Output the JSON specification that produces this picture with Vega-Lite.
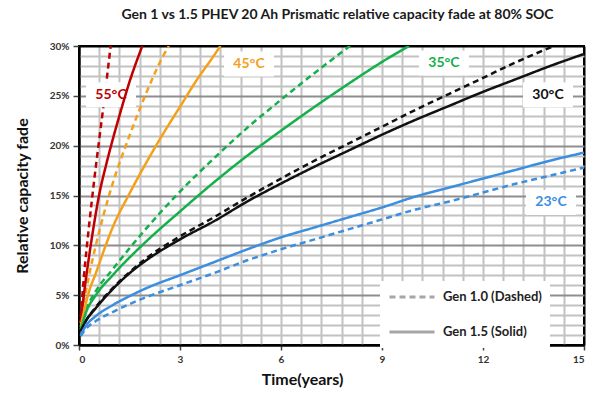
{
  "$schema": "https://vega.github.io/schema/vega-lite/v6.json",
  "width": 505,
  "height": 299,
  "autosize": "none",
  "padding": {"left": 79, "top": 46, "right": 13, "bottom": 48},
  "background": "white",
  "title": {
    "text": "Gen 1 vs 1.5 PHEV 20 Ah Prismatic relative capacity fade at 80% SOC",
    "font": "Lato",
    "fontSize": 14,
    "fontWeight": "bold",
    "color": "#1a1a1a",
    "anchor": "middle",
    "frame": "group",
    "dx": 6,
    "offset": 19
  },
  "config": {
    "view": {"stroke": "#000", "strokeWidth": 2},
    "axis": {
      "labelFont": "Lato",
      "labelFontWeight": "bold",
      "labelFontSize": 10,
      "labelColor": "#333",
      "titleFont": "Lato",
      "titleFontWeight": "bold",
      "titleColor": "#111"
    }
  },
  "datasets": {
    "curves": [
      {"temp": "55°C", "gen": "Gen 1.5 (Solid)", "t": 0.05, "fade": 2.3},
      {"temp": "55°C", "gen": "Gen 1.5 (Solid)", "t": 0.15, "fade": 5.2},
      {"temp": "55°C", "gen": "Gen 1.5 (Solid)", "t": 0.3, "fade": 8.9},
      {"temp": "55°C", "gen": "Gen 1.5 (Solid)", "t": 0.45, "fade": 12.2},
      {"temp": "55°C", "gen": "Gen 1.5 (Solid)", "t": 0.6, "fade": 15.1},
      {"temp": "55°C", "gen": "Gen 1.5 (Solid)", "t": 0.8, "fade": 18.0},
      {"temp": "55°C", "gen": "Gen 1.5 (Solid)", "t": 1.0, "fade": 20.6},
      {"temp": "55°C", "gen": "Gen 1.5 (Solid)", "t": 1.2, "fade": 23.0},
      {"temp": "55°C", "gen": "Gen 1.5 (Solid)", "t": 1.5, "fade": 26.4},
      {"temp": "55°C", "gen": "Gen 1.5 (Solid)", "t": 1.88, "fade": 30.0},
      {"temp": "55°C", "gen": "Gen 1.0 (Dashed)", "t": 0.05, "fade": 2.8},
      {"temp": "55°C", "gen": "Gen 1.0 (Dashed)", "t": 0.15, "fade": 7.0},
      {"temp": "55°C", "gen": "Gen 1.0 (Dashed)", "t": 0.3, "fade": 12.0},
      {"temp": "55°C", "gen": "Gen 1.0 (Dashed)", "t": 0.45, "fade": 16.5},
      {"temp": "55°C", "gen": "Gen 1.0 (Dashed)", "t": 0.6, "fade": 20.6},
      {"temp": "55°C", "gen": "Gen 1.0 (Dashed)", "t": 0.75, "fade": 24.6},
      {"temp": "55°C", "gen": "Gen 1.0 (Dashed)", "t": 0.94, "fade": 30.0},
      {"temp": "45°C", "gen": "Gen 1.5 (Solid)", "t": 0.05, "fade": 1.8},
      {"temp": "45°C", "gen": "Gen 1.5 (Solid)", "t": 0.15, "fade": 3.4},
      {"temp": "45°C", "gen": "Gen 1.5 (Solid)", "t": 0.3, "fade": 5.4},
      {"temp": "45°C", "gen": "Gen 1.5 (Solid)", "t": 0.5, "fade": 7.2},
      {"temp": "45°C", "gen": "Gen 1.5 (Solid)", "t": 0.75, "fade": 9.6},
      {"temp": "45°C", "gen": "Gen 1.5 (Solid)", "t": 1.0, "fade": 11.8},
      {"temp": "45°C", "gen": "Gen 1.5 (Solid)", "t": 1.5, "fade": 15.2},
      {"temp": "45°C", "gen": "Gen 1.5 (Solid)", "t": 2.0, "fade": 18.3},
      {"temp": "45°C", "gen": "Gen 1.5 (Solid)", "t": 2.5, "fade": 21.2},
      {"temp": "45°C", "gen": "Gen 1.5 (Solid)", "t": 3.0, "fade": 23.9},
      {"temp": "45°C", "gen": "Gen 1.5 (Solid)", "t": 3.5, "fade": 26.6},
      {"temp": "45°C", "gen": "Gen 1.5 (Solid)", "t": 4.0, "fade": 29.0},
      {"temp": "45°C", "gen": "Gen 1.5 (Solid)", "t": 4.2, "fade": 30.0},
      {"temp": "45°C", "gen": "Gen 1.0 (Dashed)", "t": 0.05, "fade": 2.2},
      {"temp": "45°C", "gen": "Gen 1.0 (Dashed)", "t": 0.15, "fade": 4.3},
      {"temp": "45°C", "gen": "Gen 1.0 (Dashed)", "t": 0.3, "fade": 7.0},
      {"temp": "45°C", "gen": "Gen 1.0 (Dashed)", "t": 0.5, "fade": 10.0},
      {"temp": "45°C", "gen": "Gen 1.0 (Dashed)", "t": 0.75, "fade": 13.3},
      {"temp": "45°C", "gen": "Gen 1.0 (Dashed)", "t": 1.0, "fade": 16.2},
      {"temp": "45°C", "gen": "Gen 1.0 (Dashed)", "t": 1.5, "fade": 21.0},
      {"temp": "45°C", "gen": "Gen 1.0 (Dashed)", "t": 2.0, "fade": 25.3},
      {"temp": "45°C", "gen": "Gen 1.0 (Dashed)", "t": 2.5, "fade": 29.0},
      {"temp": "45°C", "gen": "Gen 1.0 (Dashed)", "t": 2.67, "fade": 30.0},
      {"temp": "35°C", "gen": "Gen 1.5 (Solid)", "t": 0.05, "fade": 1.5},
      {"temp": "35°C", "gen": "Gen 1.5 (Solid)", "t": 0.2, "fade": 3.2},
      {"temp": "35°C", "gen": "Gen 1.5 (Solid)", "t": 0.5, "fade": 5.0},
      {"temp": "35°C", "gen": "Gen 1.5 (Solid)", "t": 1, "fade": 7.0},
      {"temp": "35°C", "gen": "Gen 1.5 (Solid)", "t": 2, "fade": 10.4},
      {"temp": "35°C", "gen": "Gen 1.5 (Solid)", "t": 3, "fade": 13.4},
      {"temp": "35°C", "gen": "Gen 1.5 (Solid)", "t": 4, "fade": 16.3},
      {"temp": "35°C", "gen": "Gen 1.5 (Solid)", "t": 5, "fade": 19.0},
      {"temp": "35°C", "gen": "Gen 1.5 (Solid)", "t": 6, "fade": 21.5},
      {"temp": "35°C", "gen": "Gen 1.5 (Solid)", "t": 7, "fade": 23.9},
      {"temp": "35°C", "gen": "Gen 1.5 (Solid)", "t": 8, "fade": 26.2},
      {"temp": "35°C", "gen": "Gen 1.5 (Solid)", "t": 9, "fade": 28.4},
      {"temp": "35°C", "gen": "Gen 1.5 (Solid)", "t": 9.8, "fade": 30.0},
      {"temp": "35°C", "gen": "Gen 1.0 (Dashed)", "t": 0.05, "fade": 1.6},
      {"temp": "35°C", "gen": "Gen 1.0 (Dashed)", "t": 0.2, "fade": 3.4},
      {"temp": "35°C", "gen": "Gen 1.0 (Dashed)", "t": 0.5, "fade": 5.4},
      {"temp": "35°C", "gen": "Gen 1.0 (Dashed)", "t": 1, "fade": 7.6},
      {"temp": "35°C", "gen": "Gen 1.0 (Dashed)", "t": 2, "fade": 11.7},
      {"temp": "35°C", "gen": "Gen 1.0 (Dashed)", "t": 3, "fade": 15.4},
      {"temp": "35°C", "gen": "Gen 1.0 (Dashed)", "t": 4, "fade": 18.7},
      {"temp": "35°C", "gen": "Gen 1.0 (Dashed)", "t": 5, "fade": 21.8},
      {"temp": "35°C", "gen": "Gen 1.0 (Dashed)", "t": 6, "fade": 24.6},
      {"temp": "35°C", "gen": "Gen 1.0 (Dashed)", "t": 7, "fade": 27.3},
      {"temp": "35°C", "gen": "Gen 1.0 (Dashed)", "t": 8.05, "fade": 30.0},
      {"temp": "30°C", "gen": "Gen 1.5 (Solid)", "t": 0.05, "fade": 1.4},
      {"temp": "30°C", "gen": "Gen 1.5 (Solid)", "t": 0.2, "fade": 2.4},
      {"temp": "30°C", "gen": "Gen 1.5 (Solid)", "t": 0.5, "fade": 3.7},
      {"temp": "30°C", "gen": "Gen 1.5 (Solid)", "t": 1, "fade": 5.6},
      {"temp": "30°C", "gen": "Gen 1.5 (Solid)", "t": 1.5, "fade": 7.2},
      {"temp": "30°C", "gen": "Gen 1.5 (Solid)", "t": 2, "fade": 8.5},
      {"temp": "30°C", "gen": "Gen 1.5 (Solid)", "t": 3, "fade": 10.6},
      {"temp": "30°C", "gen": "Gen 1.5 (Solid)", "t": 4, "fade": 12.4},
      {"temp": "30°C", "gen": "Gen 1.5 (Solid)", "t": 5, "fade": 14.4},
      {"temp": "30°C", "gen": "Gen 1.5 (Solid)", "t": 6, "fade": 16.2},
      {"temp": "30°C", "gen": "Gen 1.5 (Solid)", "t": 7, "fade": 17.9},
      {"temp": "30°C", "gen": "Gen 1.5 (Solid)", "t": 8, "fade": 19.5},
      {"temp": "30°C", "gen": "Gen 1.5 (Solid)", "t": 9, "fade": 21.1},
      {"temp": "30°C", "gen": "Gen 1.5 (Solid)", "t": 10, "fade": 22.6},
      {"temp": "30°C", "gen": "Gen 1.5 (Solid)", "t": 11, "fade": 24.0},
      {"temp": "30°C", "gen": "Gen 1.5 (Solid)", "t": 12, "fade": 25.4},
      {"temp": "30°C", "gen": "Gen 1.5 (Solid)", "t": 13, "fade": 26.7},
      {"temp": "30°C", "gen": "Gen 1.5 (Solid)", "t": 14, "fade": 28.0},
      {"temp": "30°C", "gen": "Gen 1.5 (Solid)", "t": 15, "fade": 29.2},
      {"temp": "30°C", "gen": "Gen 1.0 (Dashed)", "t": 0.05, "fade": 1.4},
      {"temp": "30°C", "gen": "Gen 1.0 (Dashed)", "t": 0.2, "fade": 2.4},
      {"temp": "30°C", "gen": "Gen 1.0 (Dashed)", "t": 0.5, "fade": 3.8},
      {"temp": "30°C", "gen": "Gen 1.0 (Dashed)", "t": 1, "fade": 5.7},
      {"temp": "30°C", "gen": "Gen 1.0 (Dashed)", "t": 1.5, "fade": 7.3},
      {"temp": "30°C", "gen": "Gen 1.0 (Dashed)", "t": 2, "fade": 8.7},
      {"temp": "30°C", "gen": "Gen 1.0 (Dashed)", "t": 3, "fade": 10.9},
      {"temp": "30°C", "gen": "Gen 1.0 (Dashed)", "t": 4, "fade": 12.8},
      {"temp": "30°C", "gen": "Gen 1.0 (Dashed)", "t": 5, "fade": 14.8},
      {"temp": "30°C", "gen": "Gen 1.0 (Dashed)", "t": 6, "fade": 16.7},
      {"temp": "30°C", "gen": "Gen 1.0 (Dashed)", "t": 7, "fade": 18.5},
      {"temp": "30°C", "gen": "Gen 1.0 (Dashed)", "t": 8, "fade": 20.2},
      {"temp": "30°C", "gen": "Gen 1.0 (Dashed)", "t": 9, "fade": 21.9},
      {"temp": "30°C", "gen": "Gen 1.0 (Dashed)", "t": 10, "fade": 23.6},
      {"temp": "30°C", "gen": "Gen 1.0 (Dashed)", "t": 11, "fade": 25.2},
      {"temp": "30°C", "gen": "Gen 1.0 (Dashed)", "t": 12, "fade": 26.8},
      {"temp": "30°C", "gen": "Gen 1.0 (Dashed)", "t": 13, "fade": 28.4},
      {"temp": "30°C", "gen": "Gen 1.0 (Dashed)", "t": 14.1, "fade": 30.0},
      {"temp": "23°C", "gen": "Gen 1.5 (Solid)", "t": 0.05, "fade": 1.0},
      {"temp": "23°C", "gen": "Gen 1.5 (Solid)", "t": 0.2, "fade": 1.9},
      {"temp": "23°C", "gen": "Gen 1.5 (Solid)", "t": 0.5, "fade": 2.9},
      {"temp": "23°C", "gen": "Gen 1.5 (Solid)", "t": 1, "fade": 4.0},
      {"temp": "23°C", "gen": "Gen 1.5 (Solid)", "t": 1.5, "fade": 4.9},
      {"temp": "23°C", "gen": "Gen 1.5 (Solid)", "t": 2, "fade": 5.7},
      {"temp": "23°C", "gen": "Gen 1.5 (Solid)", "t": 3, "fade": 7.0},
      {"temp": "23°C", "gen": "Gen 1.5 (Solid)", "t": 4, "fade": 8.3},
      {"temp": "23°C", "gen": "Gen 1.5 (Solid)", "t": 5, "fade": 9.6},
      {"temp": "23°C", "gen": "Gen 1.5 (Solid)", "t": 6, "fade": 10.8},
      {"temp": "23°C", "gen": "Gen 1.5 (Solid)", "t": 7, "fade": 11.8},
      {"temp": "23°C", "gen": "Gen 1.5 (Solid)", "t": 8, "fade": 12.8},
      {"temp": "23°C", "gen": "Gen 1.5 (Solid)", "t": 9, "fade": 13.8},
      {"temp": "23°C", "gen": "Gen 1.5 (Solid)", "t": 10, "fade": 14.9},
      {"temp": "23°C", "gen": "Gen 1.5 (Solid)", "t": 11, "fade": 15.8},
      {"temp": "23°C", "gen": "Gen 1.5 (Solid)", "t": 12, "fade": 16.7},
      {"temp": "23°C", "gen": "Gen 1.5 (Solid)", "t": 13, "fade": 17.6},
      {"temp": "23°C", "gen": "Gen 1.5 (Solid)", "t": 14, "fade": 18.5},
      {"temp": "23°C", "gen": "Gen 1.5 (Solid)", "t": 15, "fade": 19.3},
      {"temp": "23°C", "gen": "Gen 1.0 (Dashed)", "t": 0.05, "fade": 0.9},
      {"temp": "23°C", "gen": "Gen 1.0 (Dashed)", "t": 0.2, "fade": 1.6},
      {"temp": "23°C", "gen": "Gen 1.0 (Dashed)", "t": 0.5, "fade": 2.4},
      {"temp": "23°C", "gen": "Gen 1.0 (Dashed)", "t": 1, "fade": 3.3},
      {"temp": "23°C", "gen": "Gen 1.0 (Dashed)", "t": 1.5, "fade": 4.1},
      {"temp": "23°C", "gen": "Gen 1.0 (Dashed)", "t": 2, "fade": 4.8},
      {"temp": "23°C", "gen": "Gen 1.0 (Dashed)", "t": 3, "fade": 6.0},
      {"temp": "23°C", "gen": "Gen 1.0 (Dashed)", "t": 4, "fade": 7.2},
      {"temp": "23°C", "gen": "Gen 1.0 (Dashed)", "t": 5, "fade": 8.5},
      {"temp": "23°C", "gen": "Gen 1.0 (Dashed)", "t": 6, "fade": 9.6},
      {"temp": "23°C", "gen": "Gen 1.0 (Dashed)", "t": 7, "fade": 10.6},
      {"temp": "23°C", "gen": "Gen 1.0 (Dashed)", "t": 8, "fade": 11.6},
      {"temp": "23°C", "gen": "Gen 1.0 (Dashed)", "t": 9, "fade": 12.6},
      {"temp": "23°C", "gen": "Gen 1.0 (Dashed)", "t": 10, "fade": 13.6},
      {"temp": "23°C", "gen": "Gen 1.0 (Dashed)", "t": 11, "fade": 14.4},
      {"temp": "23°C", "gen": "Gen 1.0 (Dashed)", "t": 12, "fade": 15.3},
      {"temp": "23°C", "gen": "Gen 1.0 (Dashed)", "t": 13, "fade": 16.2},
      {"temp": "23°C", "gen": "Gen 1.0 (Dashed)", "t": 14, "fade": 17.0},
      {"temp": "23°C", "gen": "Gen 1.0 (Dashed)", "t": 15, "fade": 17.8}
    ],
    "tags": [
      {"temp": "55°C", "t": 0.95, "fade": 25.1},
      {"temp": "45°C", "t": 5.05, "fade": 28.2},
      {"temp": "35°C", "t": 10.84, "fade": 28.3},
      {"temp": "30°C", "t": 13.93, "fade": 25.1},
      {"temp": "23°C", "t": 14.02, "fade": 14.3}
    ]
  },
  "layer": [
    {
      "data": {"name": "tags"},
      "mark": {"type": "point", "opacity": 0},
      "encoding": {
        "x": {
          "field": "t", "type": "quantitative",
          "scale": {"domain": [0, 15], "nice": false, "zero": false},
          "axis": {
            "orient": "bottom",
            "values": [0, 0.6, 1.2, 1.8, 2.4, 3, 3.6, 4.2, 4.8, 5.4, 6, 6.6, 7.2, 7.8, 8.4, 9, 9.6, 10.2, 10.8, 11.4, 12, 12.6, 13.2, 13.8, 14.4, 15],
            "grid": true,
            "gridColor": {"condition": {"test": "datum.value === 0 || datum.value === 15", "value": "#000000"}, "value": "#c2c2c2"},
            "gridWidth": 2,
            "labels": false, "ticks": false, "domain": false, "title": null
          }
        },
        "y": {
          "field": "fade", "type": "quantitative",
          "scale": {"domain": [0, 30], "nice": false},
          "axis": {
            "orient": "left",
            "values": [1, 2, 3, 4, 6, 7, 8, 9, 11, 12, 13, 14, 16, 17, 18, 19, 21, 22, 23, 24, 26, 27, 28, 29],
            "grid": true, "gridColor": "#c2c2c2", "gridWidth": 2,
            "labels": false, "ticks": false, "domain": false, "title": null
          }
        }
      }
    },
    {
      "data": {"name": "tags"},
      "mark": {"type": "point", "opacity": 0},
      "encoding": {
        "x": {
          "field": "t", "type": "quantitative",
          "axis": {
            "orient": "bottom",
            "values": [0, 3, 6, 9, 12, 15],
            "grid": false,
            "ticks": true, "tickColor": "#444", "tickSize": 5, "tickWidth": 1.5,
            "domain": true, "domainColor": "#000", "domainWidth": 2,
            "labelPadding": 4,
            "title": "Time(years)", "titleFontSize": 16,
            "titleX": 223, "titleY": 26
          }
        },
        "y": {
          "field": "fade", "type": "quantitative",
          "axis": {
            "orient": "left",
            "values": [0, 5, 10, 15, 20, 25, 30],
            "grid": true,
            "gridColor": {"condition": {"test": "datum.value === 0 || datum.value === 30", "value": "#000000"}, "value": "#8e8e8e"},
            "gridWidth": 2,
            "labelExpr": "datum.value + '%'",
            "ticks": true, "tickColor": "#444", "tickSize": 6, "tickWidth": 1.5,
            "domain": true, "domainColor": "#000", "domainWidth": 2,
            "labelPadding": 4,
            "title": "Relative capacity fade", "titleFontSize": 16,
            "titleX": -57, "titleBaseline": "middle"
          }
        }
      }
    },
    {
      "data": {"name": "curves"},
      "transform": [{"filter": "datum.gen === 'Gen 1.0 (Dashed)'"}],
      "mark": {"type": "line", "strokeWidth": 2.5, "interpolate": "monotone", "clip": true},
      "encoding": {
        "x": {"field": "t", "type": "quantitative", "axis": null},
        "y": {"field": "fade", "type": "quantitative", "axis": null},
        "color": {
          "field": "temp", "type": "nominal",
          "scale": {"domain": ["55°C", "45°C", "35°C", "30°C", "23°C"], "range": ["#c00000", "#f5a01a", "#14b04a", "#111111", "#3b8ee0"]},
          "legend": null
        },
        "strokeDash": {
          "field": "gen", "type": "nominal",
          "scale": {"domain": ["Gen 1.0 (Dashed)", "Gen 1.5 (Solid)"], "range": [[6, 4], [1, 0]]},
          "legend": {
            "orient": "none",
            "legendX": 301,
            "legendY": 235,
            "title": null,
            "fillColor": "white",
            "padding": 8,
            "symbolType": "stroke",
            "symbolSize": 2025,
            "symbolStrokeWidth": 3,
            "symbolStrokeColor": "#a6a6a6",
            "clipHeight": 16,
            "rowPadding": 19,
            "labelOffset": 7,
            "labelFont": "Lato",
            "labelFontSize": 13,
            "labelFontWeight": "bold",
            "labelColor": "#222",
            "labelLimit": 300,
            "encode": {
              "symbols": {
                "update": {
                  "stroke": {"value": "#a6a6a6"},
                  "strokeWidth": {"value": 3},
                  "strokeDash": {"signal": "datum.value === 'Gen 1.0 (Dashed)' ? [10, 6] : [1, 0]"}
                }
              }
            }
          }
        }
      }
    },
    {
      "data": {"name": "tags"},
      "mark": {"type": "point", "shape": "M-1,-0.5H1V0.5H-1Z", "size": 2500, "filled": true, "fill": "white", "opacity": 1, "strokeWidth": 0},
      "encoding": {
        "x": {"field": "t", "type": "quantitative", "axis": null},
        "y": {"field": "fade", "type": "quantitative", "axis": null}
      }
    },
    {
      "data": {"name": "curves"},
      "transform": [{"filter": "datum.gen === 'Gen 1.5 (Solid)'"}],
      "mark": {"type": "line", "strokeWidth": 2.5, "interpolate": "monotone", "clip": true},
      "encoding": {
        "x": {"field": "t", "type": "quantitative", "axis": null},
        "y": {"field": "fade", "type": "quantitative", "axis": null},
        "color": {"field": "temp", "type": "nominal", "legend": null},
        "strokeDash": {"field": "gen", "type": "nominal", "legend": null}
      }
    },
    {
      "data": {"name": "tags"},
      "mark": {"type": "text", "font": "Lato", "fontSize": 14, "fontWeight": "bold", "align": "center", "baseline": "middle"},
      "encoding": {
        "x": {"field": "t", "type": "quantitative", "axis": null},
        "y": {"field": "fade", "type": "quantitative", "axis": null},
        "text": {"field": "temp"},
        "color": {"field": "temp", "type": "nominal", "legend": null}
      }
    }
  ],
  "resolve": {"axis": {"x": "independent", "y": "independent"}}
}
